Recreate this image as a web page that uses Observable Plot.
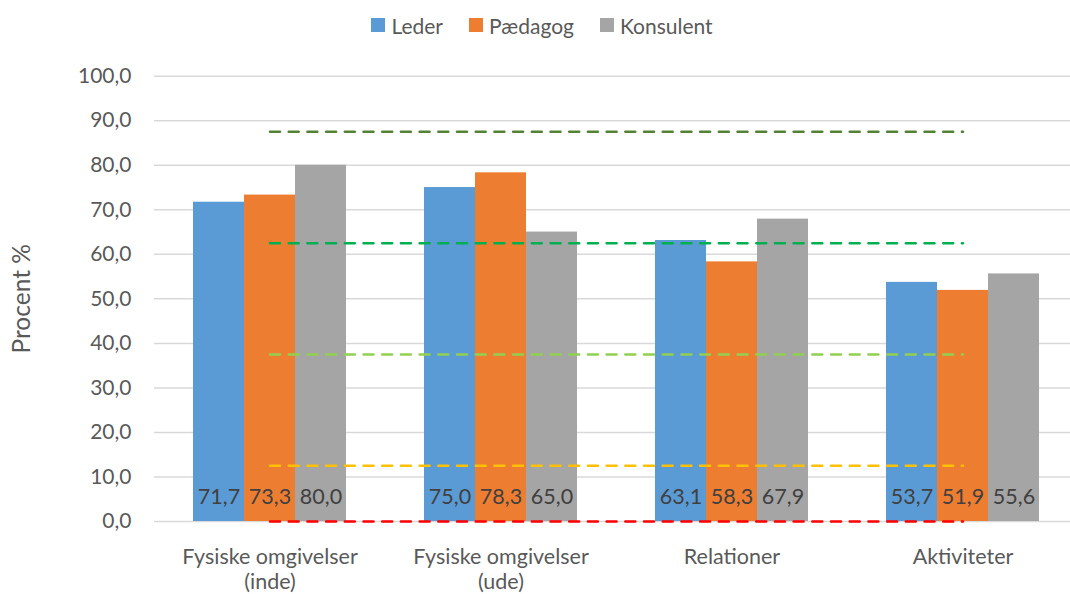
<!DOCTYPE html>
<html>
<head>
<meta charset="utf-8">
<script src="https://cdn.jsdelivr.net/npm/d3@7"></script>
<script src="https://cdn.jsdelivr.net/npm/@observablehq/plot@0.6"></script>
<style>
  html, body { margin: 0; padding: 0; background: #fff; }
  body { width: 1070px; height: 594px; overflow: hidden; font-family: Lato, "Open Sans", sans-serif; }
  #legend { height: 44px; display: flex; justify-content: center; align-items: center; padding-top: 6px; padding-left: 14px; box-sizing: border-box; font-size: 21px; color: #595959; }
  #legend .item { display: flex; align-items: center; margin: 0 13px; }
  #legend .sw { width: 14px; height: 14px; margin-right: 6px; }
</style>
</head>
<body>
<div id="legend"></div>
<div id="chart"></div>
<script>
const categories = ["Fysiske omgivelser (inde)", "Fysiske omgivelser (ude)", "Relationer", "Aktiviteter"];
const categoryLabels = ["Fysiske omgivelser\n(inde)", "Fysiske omgivelser\n(ude)", "Relationer", "Aktiviteter"];
const seriesNames = ["Leder", "Pædagog", "Konsulent"];
const seriesColors = ["#5B9BD5", "#ED7D31", "#A5A5A5"];
const leder = [71.7, 75.0, 63.1, 53.7];
const paedagog = [73.3, 78.3, 58.3, 51.9];
const konsulent = [80.0, 65.0, 67.9, 55.6];
const yTicks = [0, 10, 20, 30, 40, 50, 60, 70, 80, 90, 100];

// reference (dashed) lines across categories
const refRed = [0, 0, 0, 0];
const refYellow = [12.5, 12.5, 12.5, 12.5];
const refLightGreen = [37.5, 37.5, 37.5, 37.5];
const refGreen = [62.5, 62.5, 62.5, 62.5];
const refDarkGreen = [87.5, 87.5, 87.5, 87.5];
const refLines = [refRed, refYellow, refLightGreen, refGreen, refDarkGreen];
const refColors = ["#FF0000", "#FFC000", "#92D050", "#00B050", "#548235"];

const seriesValues = [leder, paedagog, konsulent];
const fmt = d => d.toFixed(1).replace(".", ",");
const labelOf = new Map(categories.map((c, i) => [c, categoryLabels[i]]));

// legend
const legend = document.getElementById("legend");
seriesNames.forEach((n, i) => {
  const it = document.createElement("div");
  it.className = "item";
  it.innerHTML = `<span class="sw" style="background:${seriesColors[i]}"></span><span>${n}</span>`;
  legend.appendChild(it);
});

const barWidth = 51;
const offsets = [-barWidth, 0, barWidth];

const marks = [
  Plot.ruleY(yTicks, {stroke: "#D9D9D9", strokeWidth: 1.5})
];
seriesValues.forEach((vals, i) => {
  const data = categories.map((c, j) => ({cat: c, value: vals[j]}));
  marks.push(Plot.barY(data, {x: "cat", y: "value", fill: seriesColors[i], dx: offsets[i], insetLeft: 90, insetRight: 90}));
});
refLines.forEach((vals, i) => {
  const data = categories.map((c, j) => ({cat: c, value: vals[j]}));
  marks.push(Plot.lineY(data, {x: "cat", y: "value", stroke: refColors[i], strokeWidth: 2.5, strokeDasharray: "10,8.7"}));
});
seriesValues.forEach((vals, i) => {
  const data = categories.map((c, j) => ({cat: c, value: vals[j]}));
  marks.push(Plot.text(data, {x: "cat", y: () => 0, text: d => fmt(d.value), dx: offsets[i], dy: -24.5, fill: "#404040", fontSize: 21.5}));
});
marks.push(Plot.text(categories, {x: d => d, y: () => 0, text: d => labelOf.get(d), lineAnchor: "top", dy: 25, lineHeight: 1.143, fill: "#595959", fontSize: 21.5}));
marks.push(Plot.axisY({ticks: yTicks, tickFormat: fmt, tickSize: 0, tickPadding: 23, fontSize: 21, label: null}));
marks.push(Plot.text(["Procent %"], {frameAnchor: "left", textAnchor: "middle", text: d => d, rotate: -90, dx: -132, fill: "#595959", fontSize: 24.5}));

const chart = Plot.plot({
  width: 1070,
  height: 550,
  marginTop: 31.7,
  marginBottom: 73,
  marginLeft: 154,
  marginRight: 0,
  style: {fontFamily: "Lato, 'Open Sans', sans-serif", fontSize: "21px", color: "#595959", background: "#fff", overflow: "visible"},
  x: {domain: categories, range: [154, 1078], padding: 0, axis: null},
  y: {domain: [0, 100], axis: null},
  marks
});
document.getElementById("chart").appendChild(chart);
</script>
</body>
</html>
